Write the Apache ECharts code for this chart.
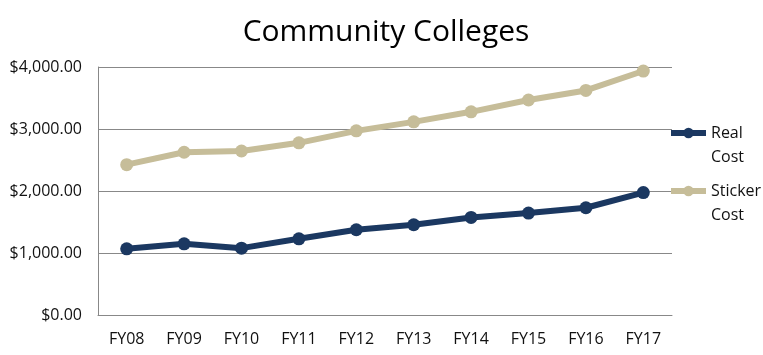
<!DOCTYPE html>
<html><head><meta charset="utf-8">
<script src="https://cdn.jsdelivr.net/npm/echarts@6/dist/echarts.min.js"></script>
<style>html,body{margin:0;padding:0;background:#fff}#c{width:763px;height:355px}</style>
</head><body><div id="c"></div>
<script>
const categories = ['FY08','FY09','FY10','FY11','FY12','FY13','FY14','FY15','FY16','FY17'];
const realCost = [1067,1148,1078,1229,1375,1456,1574,1644,1730,1975];
const stickerCost = [2425,2625,2645,2777,2970,3115,3277,3468,3622,3935];
const yTicks = [0,1000,2000,3000,4000];
const chart = echarts.init(document.getElementById('c'));
const font = '"Open Sans", "Noto Sans", sans-serif';
chart.setOption({
  animation:false,
  title:{text:'Community Colleges',left:381,textAlign:'center',top:12,textStyle:{fontFamily:font,fontSize:30,fontWeight:'normal',color:'#000'}},
  grid:{left:98,right:91,top:67,bottom:40},
  legend:{orient:'vertical',left:668,top:97,padding:0,itemWidth:35,itemHeight:13,itemGap:-14,
    formatter:n=>'\n'+n.replace(' ','\n'),
    textStyle:{fontFamily:font,fontSize:16,color:'#111',lineHeight:24},
    data:[
      {name:'Real Cost',lineStyle:{width:6}},
      {name:'Sticker Cost',lineStyle:{width:6}}
    ]},
  xAxis:{type:'category',data:categories,boundaryGap:true,
    axisLine:{lineStyle:{color:'#888',width:1}},axisTick:{show:false},
    axisLabel:{fontFamily:font,fontSize:16,color:'#111',margin:16}},
  yAxis:{type:'value',min:0,max:4000,interval:1000,
    axisLine:{show:true,lineStyle:{color:'#888',width:1}},axisTick:{show:false},
    splitLine:{lineStyle:{color:'#888',width:1}},
    axisLabel:{fontFamily:font,fontSize:16,color:'#111',margin:16,
      formatter:v=>yTicks.includes(v)?'$'+v.toLocaleString('en-US',{minimumFractionDigits:2}):''}},
  series:[
    {name:'Real Cost',type:'line',data:realCost,symbol:'circle',symbolSize:13,
      lineStyle:{width:6,color:'#1b3861'},itemStyle:{color:'#1b3861'}},
    {name:'Sticker Cost',type:'line',data:stickerCost,symbol:'circle',symbolSize:13,
      lineStyle:{width:6,color:'#c6bd99'},itemStyle:{color:'#c6bd99'}}
  ]
});
</script></body></html>
